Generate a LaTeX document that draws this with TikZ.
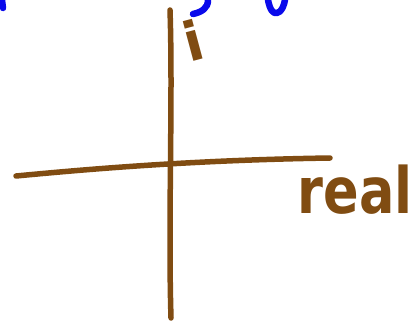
\documentclass[tikz,border=0pt]{standalone}
\usepackage{fontspec}
\setsansfont{DejaVu Sans}
\definecolor{brn}{RGB}{128,76,18}
\definecolor{blu}{RGB}{10,10,235}
\begin{document}
\begin{tikzpicture}[x=1pt,y=-1pt,
  axis/.style={draw=brn,line width=5.5pt,line cap=round,line join=round},
  ink/.style={draw=blu,line width=6.5pt,line cap=round,line join=round},
  lbl/.style={text=brn,font=\sffamily\bfseries,inner sep=0pt}]
\useasboundingbox (0,0) rectangle (417,323);
% axes
\coordinate (vt) at (170,10);
\coordinate (vb) at (171,318);
\coordinate (hl) at (16,176);
\coordinate (hr) at (330,158);
\draw[axis] (vt) .. controls (173,100) and (168,220) .. (vb);
\draw[axis] (hl) .. controls (100,168) and (200,160) .. (hr);
% labels
\node[lbl,font=\sffamily\bfseries\fontsize{54}{54}\selectfont,rotate=15] (i) at (193,40) {i};
\node[lbl,font=\sffamily\bfseries\fontsize{64}{64}\selectfont,xscale=0.82] (re) at (355,190) {real};
% blue fragments at top
\draw[ink] (2,0) -- (3,8);
\draw[ink] (208,0) .. controls (208,8) and (202,12) .. (193,14);
\draw[ink] (268,0) .. controls (270,10) and (273,14) .. (277,13) .. controls (282,12) and (284,5) .. (285,0);
\end{tikzpicture}
\end{document}
